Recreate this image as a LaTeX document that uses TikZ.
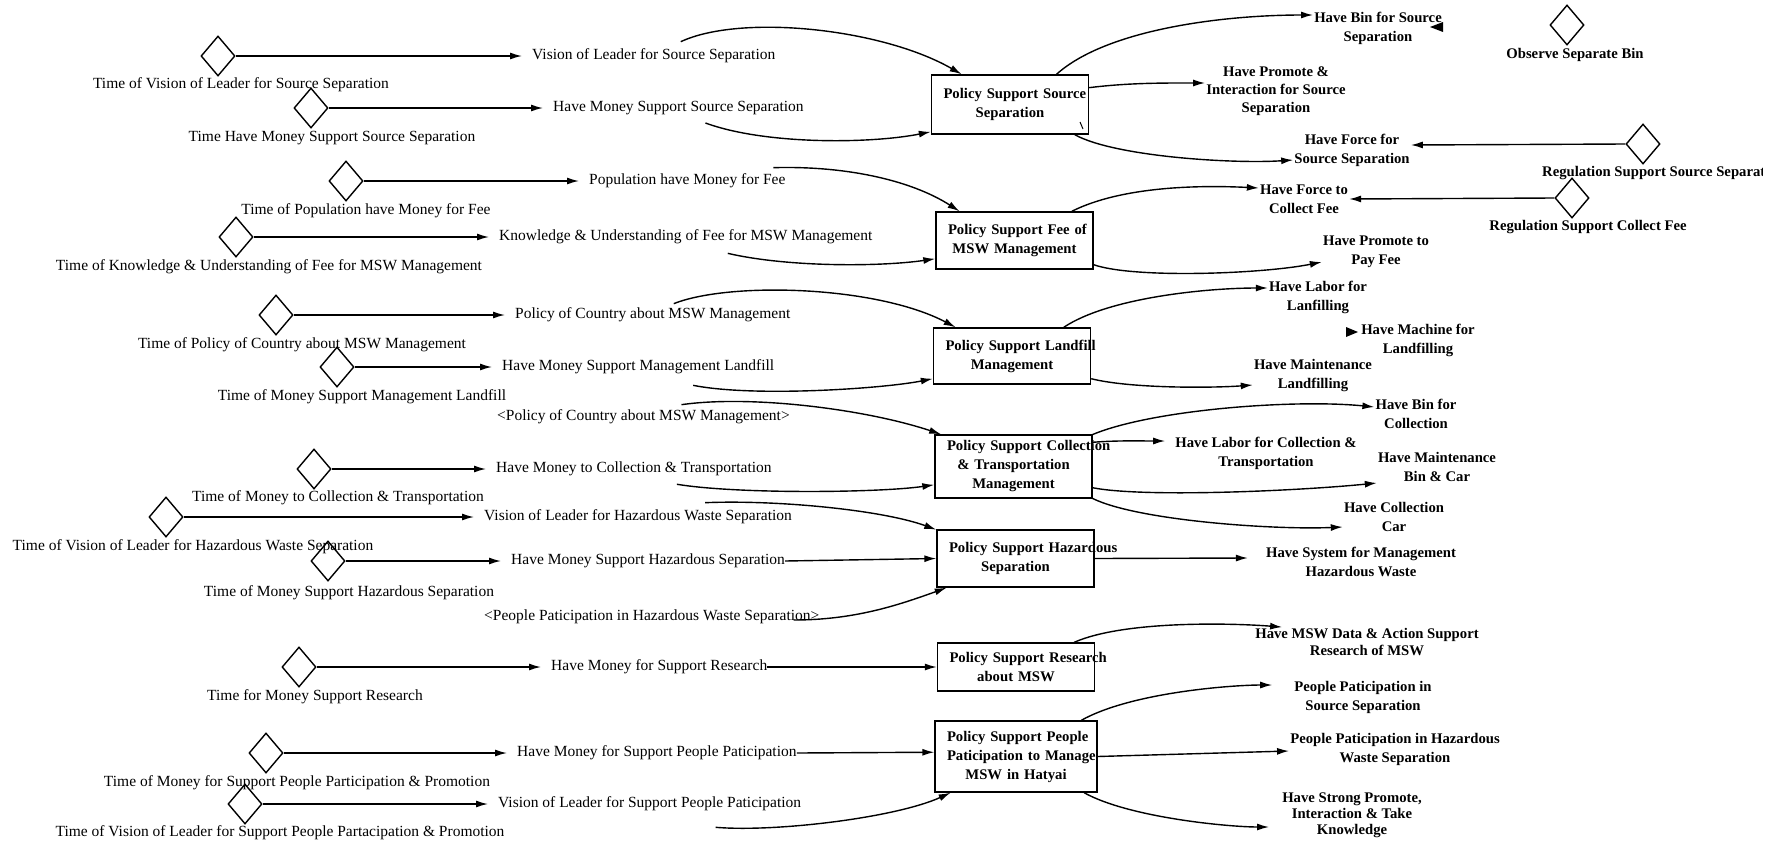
\documentclass[tikz,border=0pt]{standalone}
\usepackage{fontspec}
\setmainfont{Liberation Serif}
\usetikzlibrary{arrows.meta}
\usetikzlibrary{shapes.geometric}

\begin{document}
\begin{tikzpicture}[x=1pt,y=-1pt,
        link/.style={line width=1.4pt,-{Latex[length=12pt,width=7pt]}},
        gauge/.style={draw,diamond,line width=1.4pt,minimum width=34pt,
            minimum height=40pt,inner sep=0pt},
        gaugelabel/.style={font=\fontsize{15.5}{18}\selectfont,inner sep=0pt},
        aux/.style={anchor=west,font=\fontsize{15.5}{18}\selectfont,
            inner xsep=10pt,inner ysep=2pt},
        policy/.style={draw,line width=1.4pt,align=center,text width=133pt,
            inner xsep=12pt,inner ysep=2pt,
            font=\bfseries\fontsize{14.7}{19}\selectfont},
        outcome/.style={align=center,inner sep=1pt,
            font=\bfseries\fontsize{14.7}{19}\selectfont}]
        \useasboundingbox (0,0) rectangle (1781,844);

        % Time constants
        \node [gauge] (tvis1) at (218,56) {};
        \node [gaugelabel] at (241,85) {Time of Vision of Leader for Source Separation};
        \node [gauge] (tmon1) at (311,108) {};
        \node [gaugelabel] at (332,138) {Time Have Money Support Source Separation};
        \node [gauge] (tpop) at (346,181) {};
        \node [gaugelabel] at (366,211) {Time of Population have Money for Fee};
        \node [gauge] (tknow) at (236,237) {};
        \node [gaugelabel] at (269,267) {Time of Knowledge \& Understanding of Fee for MSW Management};
        \node [gauge] (tpol) at (276,315) {};
        \node [gaugelabel] at (302,345) {Time of Policy of Country about MSW Management};
        \node [gauge] (tmonland) at (337,367) {};
        \node [gaugelabel] at (362,397) {Time of Money Support Management Landfill};
        \node [gauge] (tmoncoll) at (314,469) {};
        \node [gaugelabel] at (338,498) {Time of Money to Collection \& Transportation};
        \node [gauge] (tvishaz) at (166,517) {};
        \node [gaugelabel] at (193,547) {Time of Vision of Leader for Hazardous Waste Separation};
        \node [gauge] (tmonhaz) at (328,561) {};
        \node [gaugelabel] at (349,593) {Time of Money Support Hazardous Separation};
        \node [gauge] (tmonres) at (299,667) {};
        \node [gaugelabel] at (315,697) {Time for Money Support Research};
        \node [gauge] (tmonppl) at (266,753) {};
        \node [gaugelabel] at (297,783) {Time of Money for Support People Participation \& Promotion};
        \node [gauge] (tvisppl) at (245,804) {};
        \node [gaugelabel] at (280,833) {Time of Vision of Leader for Support People Partacipation \& Promotion};

        % Inputs
        \node [aux] (vis1) at (522,56) {Vision of Leader for Source Separation};
        \node [aux] (mon1) at (543,108) {Have Money Support Source Separation};
        \node [aux] (pop) at (579,181) {Population have Money for Fee};
        \node [aux] (know) at (489,237) {Knowledge \& Understanding of Fee for MSW Management};
        \node [aux] (pol) at (505,315) {Policy of Country about MSW Management};
        \node [aux] (monland) at (492,367) {Have Money Support Management Landfill};
        \node [aux] (polsh) at (487,417) {<Policy of Country about MSW Management>};
        \node [aux] (moncoll) at (486,469) {Have Money to Collection \& Transportation};
        \node [aux] (vishaz) at (474,517) {Vision of Leader for Hazardous Waste Separation};
        \node [aux] (monhaz) at (501,561) {Have Money Support Hazardous Separation};
        \node [aux] (pplhaz) at (474,617) {<People Paticipation in Hazardous Waste Separation>};
        \node [aux] (monres) at (541,667) {Have Money for Support Research};
        \node [aux] (monppl) at (507,753) {Have Money for Support People Paticipation};
        \node [aux] (visppl) at (488,804) {Vision of Leader for Support People Paticipation};

        \draw [link] (tvis1.east) -- (vis1.west);
        \draw [link] (tmon1.east) -- (mon1.west);
        \draw [link] (tpop.east) -- (pop.west);
        \draw [link] (tknow.east) -- (know.west);
        \draw [link] (tpol.east) -- (pol.west);
        \draw [link] (tmonland.east) -- (monland.west);
        \draw [link] (tmoncoll.east) -- (moncoll.west);
        \draw [link] (tvishaz.east) -- (vishaz.west);
        \draw [link] (tmonhaz.east) -- (monhaz.west);
        \draw [link] (tmonres.east) -- (monres.west);
        \draw [link] (tmonppl.east) -- (monppl.west);
        \draw [link] (tvisppl.east) -- (visppl.west);

        % Policies
        \node [policy,minimum height=59pt] (srcsep) at (1010,104.5)
            {\mbox{Policy Support Source}\\Separation};
        \node [policy,minimum height=57pt] (fee) at (1014.5,240.5)
            {\mbox{Policy Support Fee of}\\MSW Management};
        \node [policy,minimum height=56pt] (landfill) at (1012,356)
            {\mbox{Policy Support Landfill}\\Management};
        \node [policy,minimum height=63pt] (collect) at (1013.5,466.5)
            {\mbox{Policy Support Collection}\\\& Transportation\\Management};
        \node [policy,minimum height=57pt] (hazard) at (1015.5,558.5)
            {\mbox{Policy Support Hazardous}\\Separation};
        \node [policy,minimum height=48pt] (research) at (1016,667)
            {\mbox{Policy Support Research}\\about MSW};
        \node [policy,minimum height=71pt,text width=138pt] (people) at (1016,756.5)
            {\mbox{Policy Support People}\\\mbox{Paticipation to Manage}\\MSW in Hatyai};
        \draw [line width=1pt] (1080,122) -- (1083,129);

        \draw [link] ([xshift=27pt,yshift=5pt]vis1.north) .. controls +(60,-28) and +(-80,-46) .. (srcsep.148);
        \draw [link] ([xshift=27pt,yshift=-6pt]mon1.south) .. controls +(60,22) and +(-60,12) .. (srcsep.199);
        \draw [link] ([xshift=86pt,yshift=4pt]pop.north) .. controls +(70,-2) and +(-50,-32) .. (fee.152);
        \draw [link] ([xshift=42pt,yshift=-7pt]know.south) .. controls +(60,14) and +(-55,8) .. (fee.193);
        \draw [link] ([xshift=21pt,yshift=2pt]pol.north) .. controls +(55,-22) and +(-80,-42) .. (landfill.153);
        \draw [link] ([xshift=55pt,yshift=-9pt]monland.south) .. controls +(60,12) and +(-50,10) .. (landfill.196);
        \draw [link] ([xshift=38pt,yshift=3pt]polsh.north) .. controls +(70,-10) and +(-75,-25) .. (collect.156);
        \draw [link] ([xshift=43pt,yshift=-6pt]moncoll.south) .. controls +(60,10) and +(-55,8) .. (collect.193);
        \draw [link] ([xshift=67pt,yshift=5pt]vishaz.north) .. controls +(70,-3) and +(-55,-20) .. (hazard.160);
        \draw [link] ([xshift=-10pt]monhaz.east) -- (hazard.west);
        \draw [link] ([xshift=-36pt,yshift=-3pt]pplhaz.east) .. controls +(60,0) and +(-50,18) .. (hazard.203);
        \draw [link] ([xshift=-10pt]monres.east) -- (research.west);
        \draw [link] ([xshift=-10pt]monppl.east) -- (people.177);
        \draw [link] ([xshift=66pt,yshift=-14pt]visppl.south) .. controls +(60,5) and +(-55,25) .. (people.209);

        % Outcomes
        \node [outcome] (binsrc) at (1378,28) {Have Bin for Source\\Separation};
        \node [outcome,font=\bfseries\fontsize{14.7}{18}\selectfont] (promsrc) at (1276,91)
            {Have Promote \&\\Interaction for Source\\Separation};
        \node [outcome] (forcesrc) at (1352,150) {Have Force for\\Source Separation};
        \node [outcome] (forcefee) at (1304,199) {Have Force to\\Collect Fee};
        \node [outcome] (payfee) at (1376,252) {Have Promote to\\Pay Fee};
        \node [outcome] (laborland) at (1318,297) {Have Labor for\\Lanfilling};
        \node [outcome] (machine) at (1418,340) {Have Machine for\\Landfilling};
        \node [outcome] (maintland) at (1313,376) {Have Maintenance\\Landfilling};
        \node [outcome] (bincoll) at (1416,414) {Have Bin for\\Collection};
        \node [outcome] (laborcoll) at (1266,453) {Have Labor for Collection \&\\Transportation};
        \node [outcome] (maintbin) at (1437,467) {Have Maintenance\\Bin \& Car};
        \node [outcome] (collcar) at (1394,517) {Have Collection\\Car};
        \node [outcome] (system) at (1361,562) {Have System for Management\\Hazardous Waste};
        \node [outcome,font=\bfseries\fontsize{14.7}{17}\selectfont] (mswdata) at (1367,642)
            {Have MSW Data \& Action Support\\Research of MSW};
        \node [outcome] (ppsrc) at (1363,697) {People Paticipation in\\Source Separation};
        \node [outcome] (pphaz) at (1395,749) {People Paticipation in Hazardous\\Waste Separation};
        \node [outcome,font=\bfseries\fontsize{14.7}{16}\selectfont] (strong) at (1352,815)
            {Have Strong Promote,\\Interaction \& Take\\Knowledge};
        \fill (1430,27) -- (1443,22) -- (1443,32) -- cycle;
        \fill (1358,332) -- (1346,327) -- (1346,337) -- cycle;

        \draw [link] (srcsep.33) .. controls +(50,-45) and +(-90,0) .. ([yshift=13pt]binsrc.west);
        \draw [link] (srcsep.12) .. controls +(40,-5) and +(-40,0) .. ([yshift=8pt]promsrc.west);
        \draw [link] (srcsep.-25) .. controls +(40,22) and +(-60,4) .. ([yshift=-10pt]forcesrc.west);
        \draw [link] (fee.27) .. controls +(50,-25) and +(-60,-3) .. ([yshift=11pt]forcefee.west);
        \draw [link] (fee.-17) .. controls +(40,14) and +(-60,12) .. ([yshift=-10pt]payfee.west);
        \draw [link] (landfill.29) .. controls +(45,-30) and +(-60,0) .. ([yshift=9pt]laborland.west);
        \draw [link] (landfill.-16) .. controls +(40,10) and +(-40,3) .. ([yshift=-9pt]maintland.west);
        \draw [link] (collect.22) .. controls +(60,-25) and +(-80,-8) .. ([yshift=7pt]bincoll.west);
        \draw [link] (collect.17) .. controls +(25,-2) and +(-25,0) .. ([xshift=-9pt,yshift=12pt]laborcoll.west);
        \draw [link] (collect.-15) .. controls +(50,10) and +(-80,8) .. ([yshift=-16pt]maintbin.west);
        \draw [link] (collect.-22) .. controls +(45,22) and +(-70,3) .. ([yshift=-10pt]collcar.west);
        \draw [link] (hazard.east) -- ([xshift=-17pt,yshift=4pt]system.west);
        \draw [link] (research.23) .. controls +(50,-22) and +(-50,-4) .. ([xshift=28pt]mswdata.north west);
        \draw [link] (people.29) .. controls +(50,-28) and +(-40,0) .. ([xshift=-21pt,yshift=12pt]ppsrc.west);
        \draw [link] (people.east) -- ([yshift=-2pt]pphaz.west);
        \draw [link] (people.-28) .. controls +(45,25) and +(-40,0) .. ([xshift=-12pt,yshift=-12pt]strong.west);

        % Regulations
        \node [gauge] (obsbin) at (1567,25) {};
        \node [gaugelabel,font=\bfseries\fontsize{14.7}{18}\selectfont] at (1575,55) {Observe Separate Bin};
        \node [gauge] (regsrc) at (1643,144) {};
        \begin{scope}
            \clip (1500,155) rectangle (1762,190);
            \node [gaugelabel,anchor=west,font=\bfseries\fontsize{14.7}{18}\selectfont] at (1542,173)
                {Regulation Support Source Separation};
        \end{scope}
        \node [gauge] (regfee) at (1572,198) {};
        \node [gaugelabel,font=\bfseries\fontsize{14.7}{18}\selectfont] at (1588,227) {Regulation Support Collect Fee};
        \draw [link] (regsrc.west) -- ([yshift=5pt]forcesrc.east);
        \draw [link] (regfee.west) -- (forcefee.east);
    \end{tikzpicture}
\end{document}
